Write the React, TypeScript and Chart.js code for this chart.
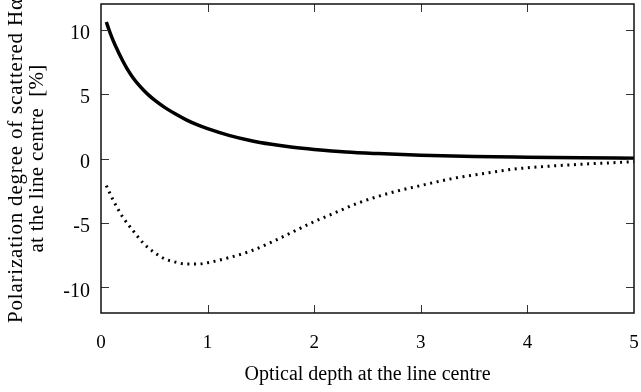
import React, { useEffect, useRef } from "react";
import { Chart, registerables } from "chart.js";

Chart.register(...registerables);

// Solid curve (upper)
const tauSolid = [0.05, 0.075, 0.1, 0.125, 0.15, 0.175, 0.2, 0.25, 0.3, 0.35, 0.4, 0.45, 0.5, 0.6, 0.7, 0.8, 0.9, 1.0, 1.2, 1.4, 1.6, 1.8, 2.0, 2.3, 2.6, 3.0, 3.5, 4.0, 4.5, 5.0];
const polSolid = [10.6, 10.0, 9.45, 8.95, 8.5, 8.05, 7.65, 6.9, 6.27, 5.75, 5.3, 4.9, 4.55, 3.95, 3.45, 3.0, 2.63, 2.32, 1.8, 1.4, 1.1, 0.87, 0.7, 0.5, 0.38, 0.26, 0.16, 0.1, 0.05, 0.02];

// Dotted curve (lower)
const tauDotted = [0.05, 0.1, 0.15, 0.2, 0.3, 0.4, 0.5, 0.6, 0.7, 0.8, 0.9, 1.0, 1.2, 1.4, 1.6, 1.8, 2.0, 2.2, 2.4, 2.7, 3.0, 3.3, 3.6, 3.9, 4.2, 4.5, 5.0];
const polDotted = [-2.1, -3.0, -3.8, -4.5, -5.6, -6.6, -7.3, -7.8, -8.05, -8.2, -8.2, -8.1, -7.7, -7.2, -6.5, -5.7, -4.9, -4.2, -3.5, -2.7, -2.1, -1.55, -1.15, -0.8, -0.6, -0.45, -0.25];

const xTicks = [0, 1, 2, 3, 4, 5];
const yTicks = [-10, -5, 0, 5, 10];

const xTitle = "Optical depth at the line centre";
const yTitle1 = "Polarization degree of scattered H\u03b1";
const yTitle2 = "at the line centre  [%]";

const FONT = '"Liberation Serif", "Times New Roman", serif';

const zeroPad = (s: any) => {
  s.paddingTop = 0;
  s.paddingBottom = 0;
  s.paddingLeft = 0;
  s.paddingRight = 0;
};

const framePlugin = {
  id: "frame",
  afterDraw(chart: any) {
    const { ctx, chartArea: a, scales } = chart;
    const x = scales.x;
    const y = scales.y;
    ctx.save();
    ctx.strokeStyle = "#333";
    ctx.lineWidth = 1;
    const tl = 8;
    xTicks.forEach((v) => {
      const px = Math.round(x.getPixelForValue(v)) + 0.5;
      if (v === xTicks[0] || v === xTicks[xTicks.length - 1]) return;
      ctx.beginPath();
      ctx.moveTo(px, a.bottom);
      ctx.lineTo(px, a.bottom - tl);
      ctx.moveTo(px, a.top);
      ctx.lineTo(px, a.top + tl);
      ctx.stroke();
    });
    yTicks.forEach((v) => {
      const py = Math.round(y.getPixelForValue(v)) + 0.5;
      ctx.beginPath();
      ctx.moveTo(a.left, py);
      ctx.lineTo(a.left + tl, py);
      ctx.moveTo(a.right, py);
      ctx.lineTo(a.right - tl, py);
      ctx.stroke();
    });
    ctx.strokeStyle = "#111";
    ctx.lineWidth = 1.5;
    ctx.strokeRect(a.left, a.top, a.right - a.left, a.bottom - a.top);

    // y-axis title (two rotated lines)
    ctx.fillStyle = "#000";
    ctx.font = "21px " + FONT;
    ctx.textBaseline = "middle";
    ctx.save();
    ctx.translate(16, 323);
    ctx.rotate(-Math.PI / 2);
    ctx.textAlign = "left";
    (ctx as any).letterSpacing = "0.8px";
    ctx.fillText(yTitle1, 0, 0);
    ctx.restore();
    ctx.save();
    ctx.translate(37.5, (a.top + a.bottom) / 2);
    ctx.rotate(-Math.PI / 2);
    ctx.textAlign = "center";
    (ctx as any).letterSpacing = "0.3px";
    ctx.fillText(yTitle2, 0, 0);
    ctx.restore();
    ctx.restore();
  },
};

export default function App() {
  const ref = useRef<HTMLCanvasElement | null>(null);
  useEffect(() => {
    if (!ref.current) return;
    const chart = new Chart(ref.current, {
      type: "line",
      data: {
        datasets: [
          {
            data: tauSolid.map((t, i) => ({ x: t, y: polSolid[i] })),
            borderColor: "#000",
            borderWidth: 3.5,
            pointRadius: 0,
            cubicInterpolationMode: "monotone",
            fill: false,
          },
          {
            data: tauDotted.map((t, i) => ({ x: t, y: polDotted[i] })),
            borderColor: "#000",
            borderWidth: 3,
            borderDash: [2, 4.6],
            borderCapStyle: "butt",
            pointRadius: 0,
            cubicInterpolationMode: "monotone",
            fill: false,
          },
        ],
      },
      options: {
        animation: false,
        responsive: false,
        devicePixelRatio: 1,
        layout: { padding: { top: 4, right: 7, left: 0, bottom: 0 } },
        plugins: {
          legend: { display: false },
          tooltip: { enabled: false },
        },
        scales: {
          x: {
            type: "linear",
            min: 0,
            max: 5,
            afterBuildTicks: (s: any) => {
              s.ticks = xTicks.map((v) => ({ value: v }));
            },
            afterFit: (s: any) => {
              s.height = 79;
              zeroPad(s);
            },
            grid: { display: false, drawTicks: false },
            border: { display: false },
            ticks: {
              color: "#000",
              padding: 19,
              maxRotation: 0,
              font: { family: FONT, size: 19 },
            },
            title: {
              display: true,
              text: xTitle,
              color: "#000",
              font: { family: FONT, size: 20 },
              padding: { top: 0, bottom: 5 },
            },
          },
          y: {
            type: "linear",
            min: -12,
            max: 12,
            afterBuildTicks: (s: any) => {
              s.ticks = yTicks.map((v) => ({ value: v }));
            },
            afterFit: (s: any) => {
              s.width = 101;
              zeroPad(s);
            },
            grid: { display: false, drawTicks: false },
            border: { display: false },
            ticks: {
              color: "#000",
              padding: 11,
              labelOffset: 4,
              font: { family: FONT, size: 20 },
            },
          },
        },
      },
      plugins: [framePlugin],
    } as any);
    return () => chart.destroy();
  }, []);
  return (
    <div style={{ position: "fixed", left: 0, top: 0, width: 641, height: 392, background: "#fff" }}>
      <canvas ref={ref} width={641} height={392} />
    </div>
  );
}
